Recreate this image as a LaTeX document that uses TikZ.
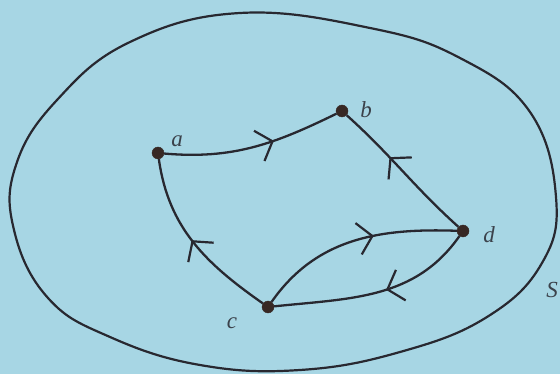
\documentclass[tikz,border=0pt]{standalone}
\usepackage{fontspec}
\setmainfont{Liberation Serif}
\usetikzlibrary{arrows.meta,decorations.markings}
\definecolor{bg}{RGB}{167,214,228}
\definecolor{ink}{RGB}{40,40,48}
\definecolor{dotc}{RGB}{55,40,36}
\tikzset{
  dot/.style={circle,fill=dotc,draw=dotc,inner sep=0pt,minimum size=12pt},
  lbl/.style={text=ink!85!bg,font=\fontsize{23}{25}\selectfont\itshape,inner sep=0pt},
  edge/.style={draw=ink,line width=2.3pt},
  midarrow/.style={postaction={decorate},decoration={markings,
    mark=at position #1 with {\arrow[ink,line width=2.2pt]{Straight Barb[length=14pt,width=32pt]}}}}
}
\begin{document}
\begin{tikzpicture}[x=1pt,y=-1pt]
\fill[bg] (0,0) rectangle (560,374);
\useasboundingbox (0,0) rectangle (560,374);
% outer closed curve S
\draw[ink,line width=2.2pt] plot[smooth cycle,tension=0.7] coordinates {
 (240,13) (370,28) (460,58) (530,112) (556,197) (542,263) (487,317)
 (400,352) (300,370) (200,365) (110,337) (48,298) (14,230) (16,165)
 (57,100) (130,42)};
% vertices
\node[dot] (a) at (158,153) {};
\node[dot] (b) at (342,111) {};
\node[dot] (c) at (268,307) {};
\node[dot] (d) at (463,231) {};
% labels
\node[lbl] (la) at (177,141) {a};
\node[lbl] (lb) at (366,110) {b};
\node[lbl] (lc) at (232,323) {c};
\node[lbl] (ld) at (489,235) {d};
\node[lbl] (lS) at (552,290) {S};
% edges
\path[edge,midarrow=0.62] (a) to[out=-5,in=206] (b);
\path[edge,midarrow=0.62] (d) to[out=138,in=-42] (b);
\path[edge,midarrow=0.52] (c) to[out=145,in=-82] (a);
\path[edge,midarrow=0.6] (c) to[out=55,in=178] (d);
\path[edge,midarrow=0.45] (d) to[out=-125,in=6] (c);
\end{tikzpicture}
\end{document}
